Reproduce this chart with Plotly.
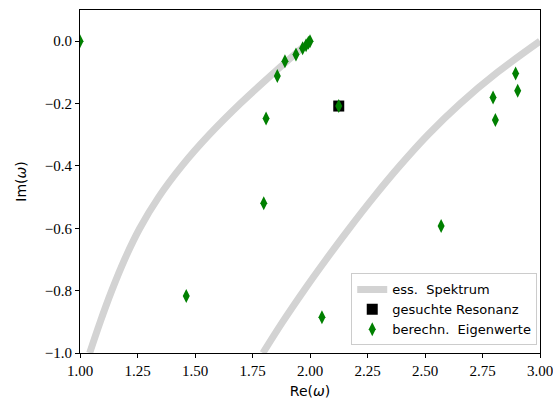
import plotly.graph_objects as go

# Essential spectrum branches (Re, Im)
spec1_im = [-1.0, -0.9, -0.8, -0.7, -0.6, -0.5, -0.4, -0.3, -0.2, -0.1, 0.0]
spec1_re = [1.042, 1.088, 1.138, 1.194, 1.260, 1.342, 1.443, 1.562, 1.697, 1.845, 2.000]
spec2_im = [-1.0, -0.9, -0.8, -0.7, -0.6, -0.5, -0.4, -0.3, -0.2, -0.1, 0.0]
spec2_re = [1.795, 1.881, 1.973, 2.070, 2.171, 2.277, 2.390, 2.513, 2.653, 2.815, 3.000]

# Sought resonance
res_re = [2.125]
res_im = [-0.208]

# Computed eigenvalues
eig_re = [1.000, 2.000, 1.993, 1.983, 1.968, 1.939, 1.891, 1.858, 1.809, 1.799,
          1.462, 2.570, 2.052, 2.125, 2.894, 2.903, 2.796, 2.806]
eig_im = [0.000, 0.000, -0.005, -0.013, -0.023, -0.043, -0.064, -0.112, -0.248, -0.520,
          -0.817, -0.593, -0.885, -0.208, -0.104, -0.159, -0.181, -0.253]

x_ticks = [1.00, 1.25, 1.50, 1.75, 2.00, 2.25, 2.50, 2.75, 3.00]
y_ticks = [-1.0, -0.8, -0.6, -0.4, -0.2, 0.0]

SPEC_COLOR = "#d3d3d3"
fig = go.Figure()
fig.add_trace(go.Scatter(x=spec1_re, y=spec1_im, mode="lines", line_shape="spline",
                         line=dict(color=SPEC_COLOR, width=7), name="ess.  Spektrum",
                         legendgroup="spec"))
fig.add_trace(go.Scatter(x=spec2_re, y=spec2_im, mode="lines", line_shape="spline",
                         line=dict(color=SPEC_COLOR, width=7), name="ess.  Spektrum",
                         legendgroup="spec", showlegend=False))
fig.add_trace(go.Scatter(x=res_re, y=res_im, mode="markers",
                         marker=dict(symbol="square", size=11, color="black"),
                         name="gesuchte Resonanz"))
fig.add_trace(go.Scatter(x=eig_re, y=eig_im, mode="markers", cliponaxis=True,
                         marker=dict(symbol="diamond-tall", size=10, color="#008000"),
                         name="berechn.  Eigenwerte"))

serif = dict(family="Liberation Serif", size=15, color="black")
sans = dict(family="DejaVu Sans", size=14, color="black")

axis_common = dict(showgrid=False, zeroline=False, showline=True, linecolor="black",
                   linewidth=1, mirror=True, ticks="outside", ticklen=4, tickwidth=1,
                   tickcolor="black", tickfont=serif, ticklabeloverflow="allow",
                   automargin=False)

fig.update_layout(
    width=553, height=401,
    margin=dict(l=80, r=13, t=10, b=48),
    paper_bgcolor="white", plot_bgcolor="white",
    xaxis=dict(range=[1.0, 3.0], tickvals=x_ticks, tickformat=".2f",
               title=dict(text="Re(<i>ω</i>)", font=sans, standoff=8), **axis_common),
    yaxis=dict(range=[-1.0, 0.1], tickvals=y_ticks, tickformat=".1f",
               title=dict(text="Im(<i>ω</i>)", font=sans, standoff=14), **axis_common),
    legend=dict(x=0.994, y=0.022, xanchor="right", yanchor="bottom",
                bgcolor="rgba(255,255,255,0.85)", bordercolor="#cccccc", borderwidth=1,
                font=dict(family="DejaVu Sans", size=13, color="black"),
                tracegroupgap=0, itemwidth=30),
    showlegend=True,
)

fig.write_html("out.html")
